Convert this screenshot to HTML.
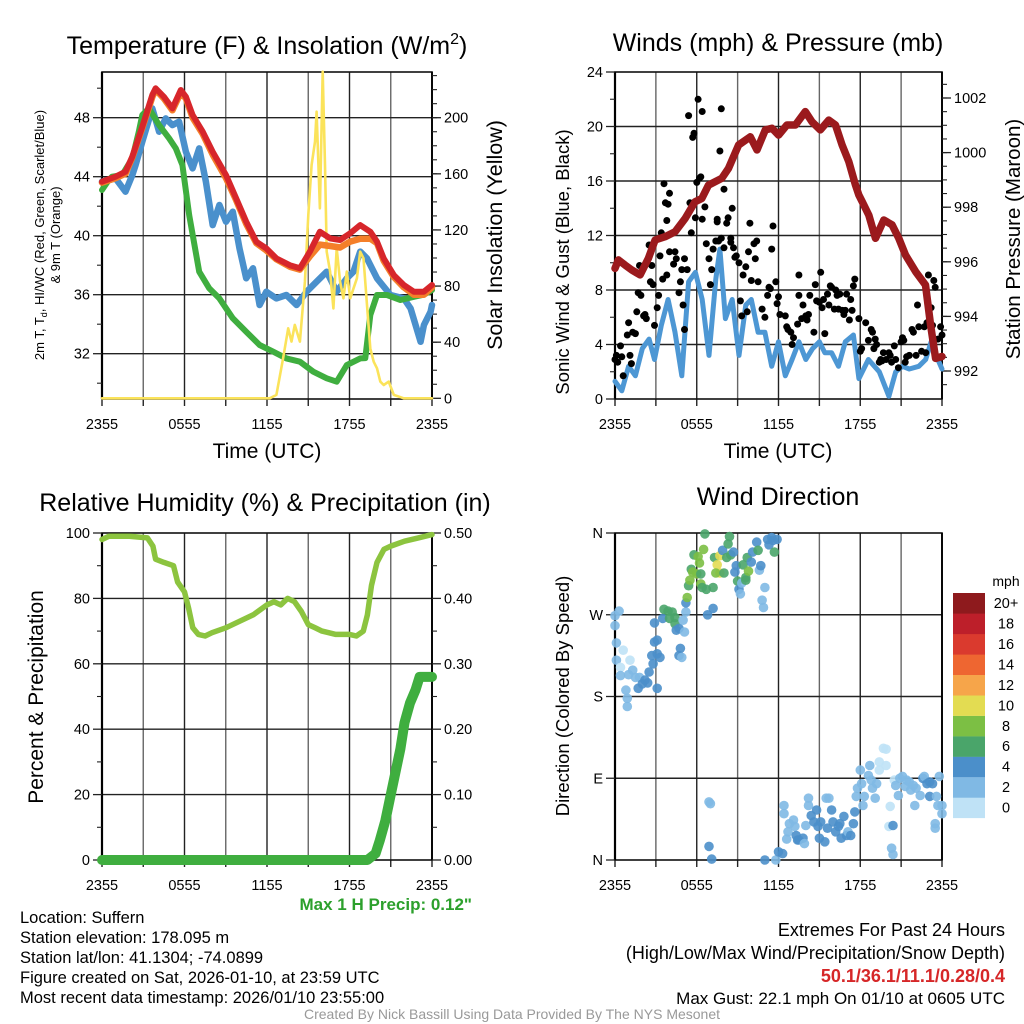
<!DOCTYPE html>
<html><head><meta charset="utf-8"><style>
html,body{margin:0;padding:0;background:#fff}
svg{display:block;font-family:"Liberation Sans",Arial,sans-serif}
</style></head><body>
<svg id="chart" width="1024" height="1024" viewBox="0 0 1024 1024" xmlns="http://www.w3.org/2000/svg">
<rect width="1024" height="1024" fill="#fff"/>
<g id="layer"></g>
<!-- titles -->
<text x="267" y="54" font-size="25" text-anchor="middle">Temperature (F) &amp; Insolation (W/m<tspan font-size="16" dy="-10">2</tspan><tspan dy="10">)</tspan></text>
<text x="778" y="51" font-size="25" text-anchor="middle">Winds (mph) &amp; Pressure (mb)</text>
<text x="265" y="511" font-size="25" text-anchor="middle">Relative Humidity (%) &amp; Precipitation (in)</text>
<text x="778" y="505" font-size="25" text-anchor="middle">Wind Direction</text>
<!-- axis titles -->
<text x="267" y="458" font-size="21" text-anchor="middle">Time (UTC)</text>
<text x="778" y="458" font-size="21" text-anchor="middle">Time (UTC)</text>
<g transform="translate(44,235) rotate(-90)">
<text x="0" y="0" font-size="13" text-anchor="middle">2m T, T<tspan font-size="9" dy="3">d</tspan><tspan dy="-3">, HI/WC (Red, Green, Scarlet/Blue)</tspan></text>
<text x="0" y="16" font-size="13" text-anchor="middle">&amp; 9m T (Orange)</text>
</g>
<text transform="translate(502,235) rotate(-90)" font-size="21.5" text-anchor="middle">Solar Insolation (Yellow)</text>
<text transform="translate(569,262) rotate(-90)" font-size="18.5" text-anchor="middle">Sonic Wind &amp; Gust (Blue, Black)</text>
<text transform="translate(1020,239) rotate(-90)" font-size="20.5" text-anchor="middle">Station Pressure (Maroon)</text>
<text transform="translate(43,697) rotate(-90)" font-size="21" text-anchor="middle">Percent &amp; Precipitation</text>
<text transform="translate(569,696) rotate(-90)" font-size="18.5" text-anchor="middle">Direction (Colored By Speed)</text>
<!-- colorbar label -->
<text x="1006" y="586" font-size="14" text-anchor="middle">mph</text>
<!-- footer texts -->
<text x="472" y="910" font-size="17" font-weight="bold" fill="#2ca02c" text-anchor="end">Max 1 H Precip: 0.12"</text>
<g font-size="16.5">
<text x="20" y="923">Location: Suffern</text>
<text x="20" y="943">Station elevation: 178.095 m</text>
<text x="20" y="963">Station lat/lon: 41.1304; -74.0899</text>
<text x="20" y="983">Figure created on Sat, 2026-01-10, at 23:59 UTC</text>
<text x="20" y="1003">Most recent data timestamp: 2026/01/10 23:55:00</text>
</g>
<g font-size="18" text-anchor="end">
<text x="1005" y="936">Extremes For Past 24 Hours</text>
<text x="1005" y="959">(High/Low/Max Wind/Precipitation/Snow Depth)</text>
<text x="1005" y="982" font-weight="bold" fill="#d62728">50.1/36.1/11.1/0.28/0.4</text>
<text x="1005" y="1004" font-size="17">Max Gust: 22.1 mph On 01/10 at 0605 UTC</text>
</g>
<text x="512" y="1019" font-size="14" fill="#999" text-anchor="middle">Created By Nick Bassill Using Data Provided By The NYS Mesonet</text>
</svg>
<script>
// ---------- DATA ----------
const xTickLabels = ["2355","0555","1155","1755","2355"];
// Panel 1
const tempHours = [0,0.98,1.71,2.2,2.93,3.66,3.9,4.5,5.12,5.73,6.1,6.59,7.32,8.05,9.02,9.76,10.49,11.22,11.95,12.68,13.66,14.39,15.12,15.85,16.59,17.32,18.05,18.78,19.51,20.0,20.49,21.22,21.95,22.68,23.41,24];
const tempRed = [43.66,44.0,44.34,45.36,47.39,49.54,49.99,49.42,48.63,49.88,49.42,48.18,47.05,45.69,44.11,42.53,40.95,39.59,39.14,38.46,38.0,37.79,38.92,40.27,39.82,39.71,40.16,40.72,40.27,39.59,38.46,37.33,36.66,36.2,36.2,36.66];
const tempOrange = [43.6,43.9,44.2,45.3,47.3,49.4,49.9,49.3,48.5,49.7,49.3,48.0,46.9,45.5,43.9,42.4,40.8,39.5,39.0,38.4,37.9,37.7,38.6,39.4,39.3,39.2,39.6,39.8,39.8,39.5,38.3,37.2,36.5,36.0,36.0,36.5];
const dewHours = [0,0.49,0.73,1.46,2.2,2.68,2.93,3.41,4.15,4.88,5.37,5.85,6.34,7.07,7.8,8.54,9.51,10.49,11.46,12.44,13.41,14.39,15.37,16.34,17.07,17.8,18.78,19.15,19.51,20.0,20.73,21.71,22.68,23.41,24];
const dewVals = [43.1,43.77,44.0,44.11,45.24,47.05,48.18,48.63,47.5,46.6,45.92,44.79,41.4,37.56,36.43,35.75,34.4,33.49,32.59,32.14,31.68,31.46,30.78,30.33,30.1,31.23,31.68,31.7,34.62,35.98,35.98,35.64,35.86,36.0,36.32];
const chillHours = [0,0.98,1.71,2.2,2.44,2.93,3.66,4.15,4.63,5.12,5.61,6.1,6.59,7.07,7.56,8.05,8.54,9.02,9.51,10.0,10.49,10.98,11.46,11.95,12.68,13.41,14.15,14.88,15.61,16.34,17.07,17.8,18.29,18.78,19.27,20.0,20.98,21.95,22.44,23.17,23.41,23.9,24];
const chillVals = [43.66,43.89,42.98,44.11,44.79,46.37,48.63,47.05,47.95,47.5,47.73,45.69,44.56,45.92,43.66,40.72,42.08,40.95,41.63,39.14,37.11,37.79,35.3,36.2,35.75,35.98,35.3,36.2,36.88,37.56,36.2,37.11,37.56,38.92,38.46,37.11,35.98,35.75,35.07,32.81,33.94,34.85,35.3];
const solarHours = [0,12.2,12.68,13.17,13.54,13.78,14.02,14.39,14.76,15.0,15.24,15.49,15.61,15.85,16.05,16.22,16.34,16.59,16.83,17.07,17.32,17.56,17.8,18.05,18.54,18.78,19.02,19.27,19.51,19.76,20.0,20.24,20.49,20.85,21.22,21.95,24];
const solarVals = [0,0,2.4,28.5,49.9,40.4,52.3,40.4,83.1,130.6,166.3,182.9,204.3,135.4,232.8,166.3,104.5,90.3,64.1,106.9,83.1,71.3,90.3,71.3,85.5,104.5,99.8,66.5,35.6,26.1,21.4,11.9,9.5,11.9,2.4,0,0];
// Panel 2
const presHours = [0,0.25,0.74,1.23,1.84,2.45,2.94,3.68,4.41,5.15,5.88,6.37,6.86,7.84,8.33,9.07,9.93,10.42,11.03,11.52,12.01,12.62,13.24,13.97,14.46,15.07,15.69,16.18,16.67,17.16,17.65,17.89,18.14,18.63,19.12,19.73,20.34,20.83,21.32,22.06,22.79,23.16,23.53,24];
const presVals = [995.76,996.07,995.88,995.7,995.52,996.13,996.8,996.92,997.1,997.59,998.2,998.32,998.81,999.06,999.42,1000.28,1000.58,1000.1,1000.83,1000.89,1000.64,1001.01,1001.01,1001.5,1001.13,1000.83,1001.19,1001.01,1000.28,999.67,998.81,998.45,998.2,997.71,996.86,997.53,997.35,996.86,996.25,995.64,995.15,993.68,992.46,992.53];
const windHours = [0,0.5,1.0,1.5,2.0,2.5,2.9,3.4,3.9,4.4,4.9,5.4,5.9,6.4,6.9,7.4,7.7,8.1,8.6,9.1,9.6,10.0,10.5,11.0,11.5,12.0,12.5,13.0,13.5,14.0,14.5,15.0,15.4,15.9,16.4,16.9,17.5,17.9,18.6,19.4,20.1,20.6,21.1,21.6,22.3,22.8,23.2,23.7,24];
const windVals = [1.3,0.6,2.4,1.7,3.7,4.4,2.9,5.4,7.3,4.9,1.7,8.6,9.3,7.3,3.2,8.8,11.0,5.9,7.3,3.2,6.9,7.3,4.9,4.9,2.4,4.2,1.7,2.9,4.2,2.9,3.7,4.2,3.4,3.4,2.4,4.2,4.7,1.5,2.9,2.0,0.2,2.0,2.4,2.2,2.4,2.9,4.2,2.9,2.2];
const gustHours = [0.0,0.1,0.2,0.4,0.5,0.6,0.9,1.0,1.1,1.2,1.3,1.5,1.6,1.7,1.8,1.9,2.1,2.2,2.3,2.5,2.6,2.7,2.8,2.9,3.1,3.2,3.3,3.4,3.5,3.6,3.7,3.8,3.8,3.9,4.0,4.0,4.3,4.4,4.5,4.7,4.8,4.9,5.0,5.1,5.1,5.3,5.4,5.5,5.6,5.7,5.8,5.9,6.0,6.1,6.2,6.3,6.4,6.4,6.6,6.7,6.9,7.0,7.1,7.2,7.4,7.5,7.5,7.6,7.7,7.8,7.8,8.0,8.0,8.2,8.3,8.5,8.5,8.6,8.7,8.8,8.9,9.1,9.2,9.3,9.4,9.6,9.7,9.8,9.9,10.0,10.2,10.3,10.4,10.5,10.8,11.0,11.2,11.3,11.4,11.5,11.6,11.8,11.9,12.0,12.1,12.5,12.6,12.7,12.9,13.0,13.1,13.4,13.5,13.5,13.7,13.8,14.0,14.1,14.2,14.3,14.6,14.7,14.8,15.0,15.1,15.2,15.3,15.4,15.6,15.7,15.8,15.9,16.1,16.2,16.3,16.4,16.5,16.7,16.8,16.9,17.0,17.2,17.3,17.4,17.5,17.6,17.9,18.0,18.1,18.4,18.6,18.8,18.9,19.0,19.1,19.2,19.4,19.5,19.6,19.7,19.9,20.1,20.2,20.3,20.5,20.6,20.8,21.0,21.1,21.2,21.3,21.4,21.6,21.8,21.9,22.1,22.2,22.3,22.5,22.7,22.8,22.9,23.0,23.2,23.3,23.4,23.5,23.7,23.9,24.0];
const gustVals = [2.9,3.2,2.7,3.9,3.1,1.7,4.7,5.6,3.2,2.6,4.9,4.8,6.4,7.8,9.8,7.6,6.1,6.2,5.9,11.3,8.6,9.8,8.4,5.4,6.7,7.6,10.5,12.2,8.8,15.8,14.4,13.1,9.1,14.3,15.1,10.8,9.9,10.8,10.3,7.8,8.6,9.5,6.9,5.1,10.3,9.5,20.8,14.4,12.2,19.2,19.5,13.3,15.9,22.0,16.2,16.3,21.1,13.2,14.1,11.4,10.3,8.4,9.5,11.0,11.6,13.0,13.2,11.6,18.2,21.3,11.8,11.1,15.4,12.9,13.3,11.8,11.5,14.0,11.1,10.4,10.5,10.0,7.2,6.1,9.1,9.7,6.4,10.8,12.9,8.7,11.4,10.3,11.6,8.6,6.6,6.0,7.6,8.2,8.1,11.0,12.7,8.6,7.0,7.5,6.2,6.1,5.3,5.1,4.9,4.0,4.5,5.5,7.6,9.1,5.9,6.9,6.1,5.8,6.2,7.6,4.9,8.4,7.2,7.1,9.3,6.7,7.3,4.8,7.7,6.9,8.3,8.2,6.6,8.0,7.6,6.6,7.7,6.5,6.2,6.5,7.7,5.8,7.3,6.5,8.3,8.8,5.9,3.5,3.7,5.6,4.3,5.1,4.9,3.7,4.4,4.0,2.7,2.9,2.8,3.4,2.9,3.4,3.2,2.7,3.9,2.9,2.3,4.2,4.5,4.3,2.7,3.1,3.2,5.1,4.9,3.2,6.9,5.3,3.5,5.3,3.4,5.6,9.1,6.7,5.4,8.7,8.2,4.4,5.3,4.7];
// Panel 3
const rhHours = [0,0.5,2,3.3,3.7,3.9,4.5,5.2,5.5,6,6.3,6.6,7,7.5,8,9,10,11,12,12.5,13,13.5,14,14.5,15,15.5,16,17,18,18.5,19,19.3,19.6,20,20.5,21,22,23,24];
const rhVals = [98,99,99,98.5,96,92,91,90,85,82,77,71,69,68.5,69.5,71,73,75,78,79,78,80,79,76,72,71,70,69,69,68.5,70,75,84,91,95,96,97.5,98.5,99.5];
const precipHours = [0,19.3,19.9,20.2,20.6,20.9,21.3,21.7,22.0,22.4,22.8,23.1,24];
const precipVals = [0,0,0.01,0.03,0.06,0.09,0.13,0.17,0.21,0.24,0.26,0.28,0.28];
// Panel 4
const dirHours = [0.0,0.3,0.0,0.1,0.6,0.1,1.1,0.4,0.4,0.8,0.9,0.9,1.0,1.3,1.5,1.8,1.7,2.0,2.2,2.4,2.5,2.8,2.7,3.1,3.3,3.1,2.9,3.1,2.9,3.5,3.6,3.9,4.2,4.0,4.4,4.4,4.5,4.7,5.0,5.2,5.1,4.8,4.7,4.9,5.2,5.3,5.4,5.5,5.6,5.7,5.8,6.0,6.1,6.2,6.3,6.3,6.4,6.5,6.6,6.7,6.8,7.2,7.2,7.3,7.5,7.7,7.7,7.4,7.9,8.0,8.2,8.3,8.4,8.5,8.7,8.8,8.9,9.0,9.1,9.2,9.3,9.4,9.6,9.6,9.7,9.8,10.0,10.1,10.4,10.5,10.6,10.7,10.8,10.9,11.0,11.2,11.3,11.6,11.7,11.9,11.5,6.9,7.0,6.9,7.1,11.0,11.8,12.0,12.3,12.4,12.4,12.6,12.7,12.8,13.1,13.2,13.3,13.4,13.5,13.8,13.9,14.0,14.2,14.2,14.4,14.6,14.8,14.9,15.0,15.1,15.4,15.6,15.5,15.7,15.9,16.0,16.2,16.4,16.5,16.6,16.8,17.0,17.1,17.3,17.5,17.6,17.7,17.8,18.0,18.1,18.2,18.3,18.6,18.7,18.8,18.9,19.1,19.2,19.4,19.4,19.7,19.9,19.9,20.2,20.1,20.3,20.4,20.4,20.5,20.6,20.8,20.9,21.1,21.3,21.4,21.6,21.7,21.9,22.0,22.1,22.4,22.6,22.7,22.9,23.1,23.1,23.3,23.5,23.6,23.7,23.8,24.0,23.5,24.0];
const dirDeg = [269,274,258,239,231,220,220,212,203,187,178,169,204,209,201,201,189,194,198,195,207,216,225,227,223,189,240,242,261,266,276,274,273,266,267,260,253,255,264,273,251,233,225,223,283,289,302,308,320,317,336,315,334,327,315,304,300,342,359,298,270,277,300,333,325,316,335,316,341,316,333,348,356,336,339,317,324,307,298,293,305,325,308,311,333,318,328,339,350,341,319,324,286,278,300,353,347,352,339,353,355,64,62,15,1,0,0,9,7,60,51,23,31,40,44,37,27,22,22,24,18,38,68,60,49,42,55,37,24,42,20,35,68,68,55,42,31,37,40,24,48,27,31,27,40,53,70,79,99,84,60,70,93,104,88,79,68,84,99,108,123,122,104,59,37,13,6,38,88,82,71,90,92,81,88,86,77,82,60,79,71,90,92,84,86,70,84,40,70,60,92,51,35,60];
const dirSpeed = [3,3,3,3,1,3,1,1,3,3,3,3,3,3,3,3,5,5,5,5,5,5,5,5,5,5,5,5,5,5,7,7,7,7,7,7,5,5,3,3,3,5,5,3,5,9,7,9,7,9,7,9,9,9,7,9,7,9,7,7,5,5,7,7,11,11,11,9,5,7,7,7,7,7,5,5,5,7,5,3,3,7,7,7,7,9,5,5,5,7,3,5,3,3,3,5,5,5,7,5,5,3,3,5,5,5,3,5,5,3,3,3,3,3,3,3,5,5,5,5,3,3,3,3,5,5,5,5,5,5,5,5,3,3,5,5,5,5,5,5,5,5,3,5,5,5,3,3,3,3,3,3,3,3,3,3,3,3,1,1,1,1,1,1,1,3,3,5,1,3,3,3,3,3,3,3,3,3,3,3,3,5,3,5,5,5,5,3,3,3,3,3,3,3];
const speedBins = ["0","2","4","6","8","10","12","14","16","18","20+"];
const speedColors = ["#bfe2f6","#80b9e4","#4b8fca","#4aa56a","#7cbf44","#e3dc52","#f6a54a","#ee6631","#da3a2e","#bd1f2a","#8e1a1d"];

// ---------- SCALES ----------
const X1 = h => 102 + h * (330 / 24);
const Y1 = t => 117.7 + (48 - t) * 14.75;
const YS = w => 398.3 - w * 1.403;
const X2 = h => 615 + h * (327 / 24);
const Y2 = m => 399 - m * 13.625;
const YP = p => 371 - (p - 992) * 27.3;
const Y3 = r => 860 - r * 3.27;
const YPr = v => 860 - v * 654;
const Y4 = d => 860 - d * (327 / 360);

const NS = "http://www.w3.org/2000/svg";
const layer = document.getElementById("layer");
function mk(tag, parent) { const e = document.createElementNS(NS, tag); parent.appendChild(e); return e; }
function grp(name) {
  const g = mk("g", layer);
  
  
  return g;
}
function seg(g, x1, y1, x2, y2, col, w) {
  const l = mk("line", g);
  l.setAttribute("x1", x1); l.setAttribute("y1", y1); l.setAttribute("x2", x2); l.setAttribute("y2", y2);
  l.setAttribute("stroke", col); l.setAttribute("stroke-width", w);
  return l;
}
function txt(g, x, y, s, anchor, size) {
  const t = mk("text", g);
  t.setAttribute("x", x); t.setAttribute("y", y); t.setAttribute("font-size", size || 14);
  t.setAttribute("text-anchor", anchor); t.textContent = s;
  return t;
}
function series(name, xs, ys, xf, yf, col, w) {
  const p = mk("path", layer);
  
  
  p.setAttribute("d", xs.map((h, i) => (i ? "L" : "M") + xf(h).toFixed(1) + "," + yf(ys[i]).toFixed(1)).join(""));
  p.setAttribute("fill", "none"); p.setAttribute("stroke", col); p.setAttribute("stroke-width", w);
  p.setAttribute("stroke-linejoin", "round"); p.setAttribute("stroke-linecap", "round");
  return p;
}
function panelFrame(name, x0, x1, y0, y1, hgrid, yf) {
  const g = grp(name);
  for (let k = 0; k <= 8; k++) {
    const x = x0 + (x1 - x0) * k / 8;
    seg(g, x, y0, x, y1, k % 2 ? "#666" : "#222", 1.4);
    seg(g, x, y1, x, y1 + 7, "#222", 1.4);
  }
  hgrid.forEach(v => seg(g, x0, yf(v), x1, yf(v), "#222", 1.4));
  const r = mk("rect", g);
  r.setAttribute("x", x0); r.setAttribute("y", y0); r.setAttribute("width", x1 - x0); r.setAttribute("height", y1 - y0);
  r.setAttribute("fill", "none"); r.setAttribute("stroke", "#111"); r.setAttribute("stroke-width", 1.6);
  seg(g, x0, y0, x0, y1, "#000", 2.2);
  seg(g, x1, y0, x1, y1, "#000", 1.8);
  const lab = grp(name + "-x-tick-labels");
  xTickLabels.forEach((s, i) => txt(lab, x0 + (x1 - x0) * i / 4, y1 + 30, s, "middle", 14.5));
}
function yTicks(name, x, side, vals, yf, labels, minors) {
  const g = grp(name);
  const d = side === "left" ? -1 : 1;
  vals.forEach((v, i) => {
    seg(g, x, yf(v), x + d * 9, yf(v), "#222", 1.3);
    txt(g, x + d * 12, yf(v) + 5, labels[i], side === "left" ? "end" : "start", 14.5);
  });
  minors.forEach(v => seg(g, x, yf(v), x + d * 5, yf(v), "#222", 1.1));
}
function range(a, b, s) { const o = []; for (let v = a; v <= b + 1e-9; v += s) o.push(+v.toFixed(3)); return o; }

// ---------- PANEL 1 ----------
panelFrame("temperature-panel", 102, 432, 72, 399, [32, 36, 40, 44, 48], Y1);
yTicks("temperature-y-axis", 102, "left", [32, 36, 40, 44, 48], Y1, ["32", "36", "40", "44", "48"], [30, 34, 38, 42, 46, 50]);
yTicks("insolation-y-axis", 432, "right", [0, 40, 80, 120, 160, 200], YS, ["0", "40", "80", "120", "160", "200"], range(10, 230, 10));
series("wind-chill-line", chillHours, chillVals, X1, Y1, "#4a90cc", 6.5);
series("dewpoint-line", dewHours, dewVals, X1, Y1, "#3fae3f", 6);
series("insolation-line", solarHours, solarVals, X1, YS, "#fbe35a", 2.6);
series("temp-9m-line", tempHours, tempOrange, X1, Y1, "#f47f2a", 6.5);
series("temp-2m-line", tempHours, tempRed, X1, Y1, "#d7262b", 6);

// ---------- PANEL 2 ----------
panelFrame("winds-panel", 615, 942, 72, 399, [4, 8, 12, 16, 20], Y2);
yTicks("wind-y-axis", 615, "left", [0, 4, 8, 12, 16, 20, 24], Y2, ["0", "4", "8", "12", "16", "20", "24"], [2, 6, 10, 14, 18, 22]);
yTicks("pressure-y-axis", 942, "right", [992, 994, 996, 998, 1000, 1002], YP, ["992", "994", "996", "998", "1000", "1002"], range(991.5, 1002.5, 0.5));
series("sonic-wind-line", windHours, windVals, X2, Y2, "#4d97d4", 5);
const gustG = grp("gust-points");
gustHours.forEach((h, i) => {
  const c = mk("circle", gustG);
  
  
  c.setAttribute("cx", X2(h).toFixed(1)); c.setAttribute("cy", Y2(gustVals[i]).toFixed(1)); c.setAttribute("r", 3.5); c.setAttribute("fill", "#000");
});
series("pressure-line", presHours, presVals, X2, YP, "#9b1a1d", 7.5);

// ---------- PANEL 3 ----------
panelFrame("humidity-panel", 102, 432, 533, 860, [20, 40, 60, 80], Y3);
yTicks("humidity-y-axis", 102, "left", [0, 20, 40, 60, 80, 100], Y3, ["0", "20", "40", "60", "80", "100"], [10, 30, 50, 70, 90]);
yTicks("precip-y-axis", 432, "right", [0, 0.1, 0.2, 0.3, 0.4, 0.5], YPr, ["0.00", "0.10", "0.20", "0.30", "0.40", "0.50"], [0.05, 0.15, 0.25, 0.35, 0.45]);
series("humidity-line", rhHours, rhVals, X1, Y3, "#8cc43f", 5.5);
series("precip-line", precipHours, precipVals, X1, YPr, "#3fae3f", 10);

// ---------- PANEL 4 ----------
panelFrame("direction-panel", 615, 942, 533, 860, [90, 180, 270], Y4);
yTicks("direction-y-axis", 615, "left", [0, 90, 180, 270, 360], Y4, ["N", "E", "S", "W", "N"], []);
const dirG = grp("direction-points");
dirHours.forEach((h, i) => {
  const c = mk("circle", dirG);
  
  
  const bin = Math.min(10, Math.floor(dirSpeed[i] / 2));
  c.setAttribute("cx", X2(h).toFixed(1)); c.setAttribute("cy", Y4(dirDeg[i]).toFixed(1)); c.setAttribute("r", 4.8);
  c.setAttribute("fill", speedColors[bin]); c.setAttribute("fill-opacity", 0.9);
});
// colorbar
const cb = grp("speed-colorbar");
speedBins.forEach((s, i) => {
  const r = mk("rect", cb);
  
  
  const y = 818 - (i + 1) * 20.45;
  r.setAttribute("x", 953); r.setAttribute("y", y.toFixed(1)); r.setAttribute("width", 32); r.setAttribute("height", 20.6);
  r.setAttribute("fill", speedColors[i]);
  txt(cb, 1006, y + 15, s, "middle", 14.5);
});
</script>
</body></html>
